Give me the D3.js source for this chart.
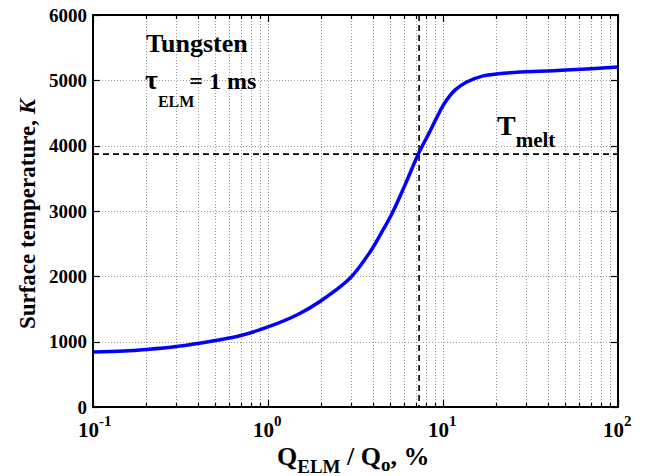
<!DOCTYPE html>
<html>
<head>
<meta charset="utf-8">
<script src="https://cdn.jsdelivr.net/npm/d3@7"></script>
<style>
  body { margin: 0; background: #fff; }
  svg { display: block; font-family: "Liberation Serif", "Times New Roman", serif; font-weight: bold; }
</style>
</head>
<body>
<svg id="chart" width="647" height="476"></svg>
<script>
// data
const qElm = [0.1, 0.15, 0.2, 0.3, 0.5, 0.7, 1.0, 1.5, 2.0, 2.94, 3.83, 4.56, 5.09, 6.07, 7.25, 8.35, 9.25, 10.26, 11.7, 13.66, 17.0, 20.7, 27.5, 42.7, 66, 100];
const tSurf = [842, 857, 880, 926, 1018, 1094, 1225, 1424, 1623, 1970, 2373, 2720, 2950, 3400, 3880, 4200, 4440, 4660, 4850, 4975, 5068, 5100, 5128, 5148, 5173, 5204];
const tMelt = 3870;
const qMelt = 7.3;
const yTicks = [0, 1000, 2000, 3000, 4000, 5000, 6000];
const xDecades = [-1, 0, 1, 2];

const svg = d3.select("#chart");
const m = { left: 93, right: 618, top: 15, bottom: 407 };

const x = d3.scaleLog().domain([0.1, 100]).range([m.left, m.right]);
const y = d3.scaleLinear().domain([0, 6000]).range([m.bottom, m.top]);

// minor positions 2..9 per decade
let minors = [];
for (let d = -1; d < 2; d++) {
  for (let k = 2; k <= 9; k++) minors.push(k * Math.pow(10, d));
}
const majors = xDecades.map(d => Math.pow(10, d));

// grid
const grid = svg.append("g")
  .attr("stroke", "#999")
  .attr("stroke-width", 1)
  .attr("stroke-dasharray", "1,2");
grid.selectAll("line.v")
  .data(minors.concat(majors.slice(1, 3)))
  .join("line")
  .attr("x1", d => Math.round(x(d)) + 0.5).attr("x2", d => Math.round(x(d)) + 0.5)
  .attr("y1", m.top).attr("y2", m.bottom);
grid.selectAll("line.h")
  .data(yTicks.slice(1, 6))
  .join("line")
  .attr("class", "h")
  .attr("x1", m.left).attr("x2", m.right)
  .attr("y1", d => Math.round(y(d)) + 0.5).attr("y2", d => Math.round(y(d)) + 0.5);

// ticks (inward, all four sides)
const ticks = svg.append("g").attr("stroke", "#000").attr("stroke-width", 1.2);
[...minors, ...majors].forEach(v => {
  const len = majors.includes(v) ? 7 : 4;
  const px = Math.round(x(v)) + 0.5;
  ticks.append("line").attr("x1", px).attr("x2", px).attr("y1", m.bottom).attr("y2", m.bottom - len);
  ticks.append("line").attr("x1", px).attr("x2", px).attr("y1", m.top).attr("y2", m.top + len);
});
yTicks.forEach(v => {
  const py = Math.round(y(v)) + 0.5;
  ticks.append("line").attr("x1", m.left).attr("x2", m.left + 7).attr("y1", py).attr("y2", py);
  ticks.append("line").attr("x1", m.right).attr("x2", m.right - 7).attr("y1", py).attr("y2", py);
});

// frame
svg.append("rect")
  .attr("x", m.left).attr("y", m.top)
  .attr("width", m.right - m.left).attr("height", m.bottom - m.top)
  .attr("fill", "none").attr("stroke", "#000").attr("stroke-width", 2);

// y tick labels
svg.append("g").selectAll("text")
  .data(yTicks)
  .join("text")
  .attr("x", m.left - 6)
  .attr("y", d => y(d))
  .attr("dy", "0.35em")
  .attr("text-anchor", "end")
  .attr("font-size", 19)
  .text(d => d);

// x tick labels 10^n
const xl = svg.append("g").selectAll("text")
  .data(xDecades)
  .join("text")
  .attr("x", d => x(Math.pow(10, d)) - 15)
  .attr("y", 437)
  .attr("font-size", 21);
xl.append("tspan").text("10");
xl.append("tspan").attr("dy", -11).attr("font-size", 15).text(d => d);

// reference lines
svg.append("line")
  .attr("x1", m.left).attr("x2", m.right)
  .attr("y1", y(tMelt)).attr("y2", y(tMelt))
  .attr("stroke", "#000").attr("stroke-width", 1.6).attr("stroke-dasharray", "6,4");
svg.append("line")
  .attr("x1", x(qMelt)).attr("x2", x(qMelt))
  .attr("y1", m.top).attr("y2", m.bottom)
  .attr("stroke", "#000").attr("stroke-width", 1.6).attr("stroke-dasharray", "6,4");

// curve
const line = d3.line()
  .x((d, i) => x(qElm[i]))
  .y(d => y(d))
  .curve(d3.curveCatmullRom.alpha(0.5));
svg.append("path")
  .datum(tSurf)
  .attr("d", line)
  .attr("fill", "none")
  .attr("stroke", "#0000ff")
  .attr("stroke-width", 3.5);

// annotations
svg.append("text").attr("x", 146).attr("y", 52).attr("font-size", 26).text("Tungsten");
const tau = svg.append("text").attr("x", 145).attr("y", 89).attr("font-size", 28);
tau.append("tspan").text("τ");
tau.append("tspan").attr("dy", 18).attr("font-size", 16).text("ELM");
tau.append("tspan").attr("dx", -5).attr("dy", -18).attr("font-size", 24).text("= 1 ms");

const tm = svg.append("text").attr("x", 497).attr("y", 135).attr("font-size", 28);
tm.append("tspan").text("T");
tm.append("tspan").attr("dy", 12).attr("font-size", 21).text("melt");

// axis titles
const xt = svg.append("text").attr("x", 277).attr("y", 465).attr("font-size", 26);
xt.append("tspan").text("Q");
xt.append("tspan").attr("dy", 8).attr("font-size", 19).text("ELM");
xt.append("tspan").attr("dy", -8).text(" / Q");
xt.append("tspan").attr("dy", 6).attr("font-size", 19).text("o");
xt.append("tspan").attr("dy", -6).text(", %");

const yt = svg.append("text")
  .attr("transform", "translate(35,214) rotate(-90)")
  .attr("text-anchor", "middle")
  .attr("font-size", 23);
yt.append("tspan").text("Surface temperature, ");
yt.append("tspan").attr("font-style", "italic").text("K");
</script>
</body>
</html>
